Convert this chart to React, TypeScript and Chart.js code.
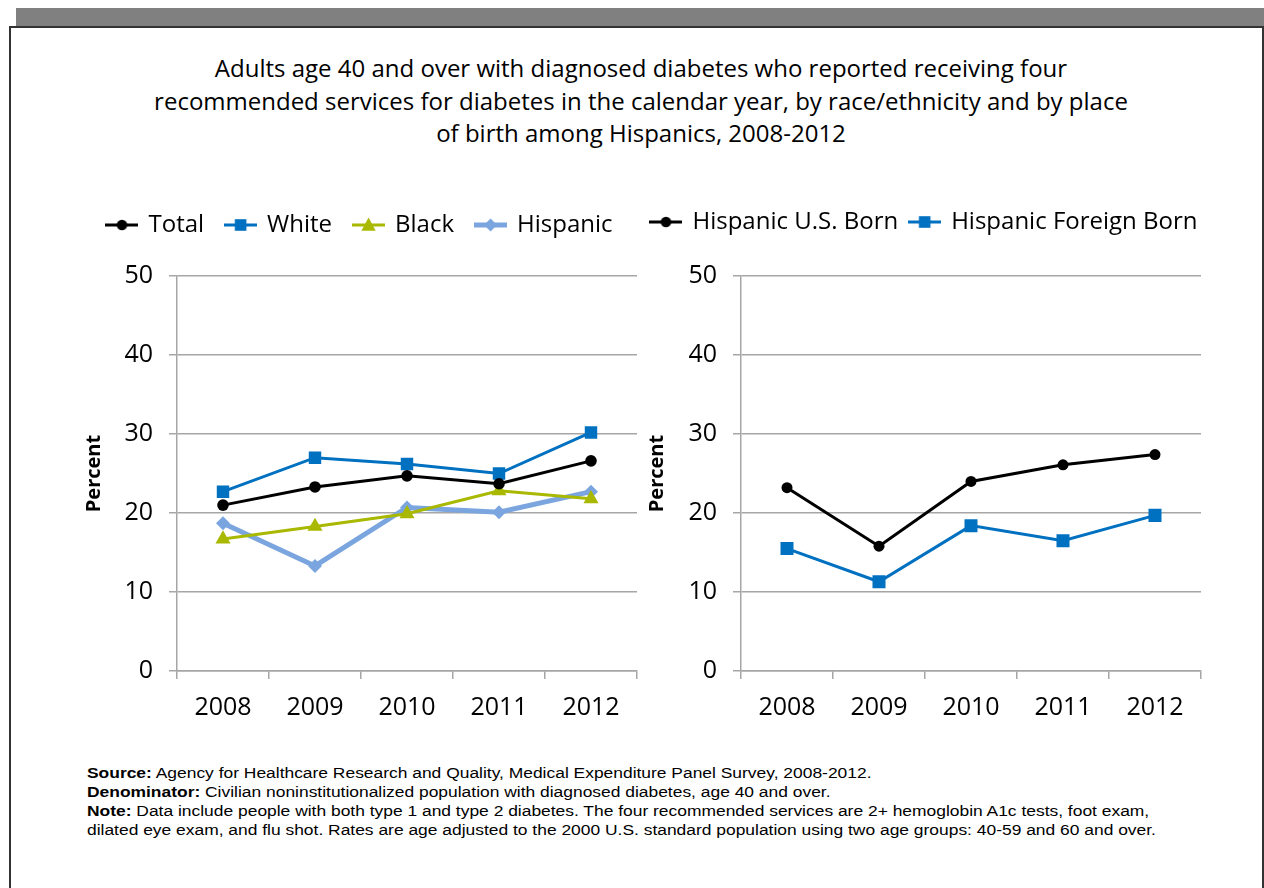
import React, { useEffect, useRef } from 'react';
import { Chart, registerables } from 'chart.js';
Chart.register(...registerables);

const years = ['2008', '2009', '2010', '2011', '2012'];
const totalValues = [21.0, 23.3, 24.7, 23.7, 26.6];
const whiteValues = [22.7, 27.0, 26.2, 25.0, 30.2];
const blackValues = [16.7, 18.3, 19.9, 22.8, 21.8];
const hispanicValues = [18.7, 13.3, 20.7, 20.1, 22.7];
const usBornValues = [23.2, 15.8, 24.0, 26.1, 27.4];
const foreignBornValues = [15.5, 11.3, 18.4, 16.5, 19.7];
const yTicks = [0, 10, 20, 30, 40, 50];

const BLUE = '#0070C0';
const OLIVE = '#A9B800';
const LIGHTBLUE = '#7BA5DE';
const GRID = '#A6A6A6';
const FONT = '"Open Sans", sans-serif';

function drawMarker(ctx: CanvasRenderingContext2D, style: string, x: number, y: number, r: number) {
  ctx.beginPath();
  if (style === 'circle') {
    ctx.arc(x, y, r, 0, Math.PI * 2);
  } else if (style === 'rect') {
    ctx.rect(x - r, y - r, 2 * r, 2 * r);
  } else if (style === 'triangle') {
    ctx.moveTo(x, y - r);
    ctx.lineTo(x + r * 0.95, y + r * 0.75);
    ctx.lineTo(x - r * 0.95, y + r * 0.75);
    ctx.closePath();
  } else if (style === 'rectRot') {
    ctx.moveTo(x, y - r);
    ctx.lineTo(x + r, y);
    ctx.lineTo(x, y + r);
    ctx.lineTo(x - r, y);
    ctx.closePath();
  }
  ctx.fill();
}

function legendImage(color: string, lineWidth: number, style: string, r: number) {
  const c = document.createElement('canvas');
  c.width = 33;
  c.height = 22;
  const ctx = c.getContext('2d')!;
  ctx.strokeStyle = color;
  ctx.lineWidth = lineWidth;
  ctx.beginPath();
  ctx.moveTo(0, 11);
  ctx.lineTo(33, 11);
  ctx.stroke();
  ctx.fillStyle = color;
  drawMarker(ctx, style, 16.5, 11, r);
  return c;
}

type SeriesDef = {
  label: string;
  data: number[];
  color: string;
  width: number;
  style: string;
  radius: number;
  legendR: number;
};

function LineChart(props: {
  series: SeriesDef[];
  yAxisWidth: number;
  xAxisHeight: number;
  padRight: number;
  titlePad: number;
  legendExtra: number;
  legendPadding: number;
}) {
  const ref = useRef<HTMLCanvasElement>(null);
  useEffect(() => {
    const images = props.series.map((s) => legendImage(s.color, s.width, s.style, s.legendR));
    const legendMargin = {
      id: 'legendMargin',
      beforeInit(chart: any) {
        const origFit = chart.legend.fit;
        chart.legend.fit = function () {
          origFit.bind(chart.legend)();
          this.height += props.legendExtra;
        };
      },
    };
    const chart = new Chart(ref.current!, {
      type: 'line',
      data: {
        labels: years,
        datasets: props.series.map((s) => ({
          label: s.label,
          data: s.data,
          borderColor: s.color,
          backgroundColor: s.color,
          borderWidth: s.width,
          pointStyle: s.style as any,
          pointRadius: s.radius,
          pointBorderWidth: 0,
          pointBackgroundColor: s.color,
          tension: 0,
          yAxisID: 'y',
        })),
      },
      plugins: [legendMargin],
      options: {
        animation: false,
        responsive: false,
        layout: { padding: 0 },
        plugins: {
          legend: {
            display: true,
            position: 'top',
            labels: {
              usePointStyle: true,
              pointStyleWidth: 29,
              padding: props.legendPadding,
              color: '#000',
              font: { family: FONT, size: 24 },
              generateLabels(chart: any) {
                const items = Chart.defaults.plugins.legend.labels.generateLabels(chart);
                return items.map((it: any, i: number) => ({ ...it, pointStyle: images[i] }));
              },
            },
          },
          tooltip: { enabled: false },
        },
        scales: {
          x: {
            type: 'category',
            offset: true,
            grid: { offset: true, drawOnChartArea: false, drawTicks: true, tickLength: 8, color: GRID, lineWidth: 1.5 },
            border: { display: true, color: GRID, width: 1.5 },
            ticks: { color: '#000', font: { family: FONT, size: 25 }, padding: 14 },
            afterFit(scale: any) {
              scale.height = props.xAxisHeight;
            },
          },
          y: {
            position: 'left',
            min: 0,
            max: 50,
            afterBuildTicks(scale: any) {
              scale.ticks = yTicks.map((v) => ({ value: v }));
            },
            grid: { color: GRID, lineWidth: 1.5, tickLength: 8, drawTicks: true },
            border: { display: true, color: GRID, width: 1.5 },
            ticks: { color: '#000', font: { family: FONT, size: 25 }, padding: 16 },
            title: {
              display: true,
              text: 'Percent',
              color: '#000',
              font: { family: FONT, size: 20, weight: 'bold' },
              padding: { top: props.titlePad, bottom: 0 },
            },
            afterFit(scale: any) {
              scale.width = props.yAxisWidth;
            },
          },
          yPad: {
            position: 'right',
            min: 0,
            max: 50,
            grid: { display: false, drawOnChartArea: false },
            border: { display: false },
            ticks: { display: false },
            afterFit(scale: any) {
              scale.width = props.padRight;
            },
          },
        },
      } as any,
    });
    return () => chart.destroy();
  }, []);
  return <canvas ref={ref} width={props.yAxisWidth + 460 + props.padRight} height={545} />;
}

const leftSeries: SeriesDef[] = [
  { label: 'Total', data: totalValues, color: '#000000', width: 3, style: 'circle', radius: 5.8, legendR: 5.3 },
  { label: 'White', data: whiteValues, color: BLUE, width: 3, style: 'rect', radius: 8.8, legendR: 5.8 },
  { label: 'Black', data: blackValues, color: OLIVE, width: 3, style: 'triangle', radius: 8.7, legendR: 7.5 },
  { label: 'Hispanic', data: hispanicValues, color: LIGHTBLUE, width: 5, style: 'rectRot', radius: 7, legendR: 6.5 },
];

const rightSeries: SeriesDef[] = [
  { label: 'Hispanic U.S. Born', data: usBornValues, color: '#000000', width: 3, style: 'circle', radius: 5.5, legendR: 5.3 },
  { label: 'Hispanic Foreign Born', data: foreignBornValues, color: BLUE, width: 3, style: 'rect', radius: 9.2, legendR: 5.8 },
];

export default function App() {
  return (
    <div style={{ position: 'absolute', left: 0, top: 0, width: 1264, height: 888, background: '#fff', overflow: 'hidden' }}>
      <div style={{ position: 'absolute', left: 16, top: 8, width: 1248, height: 18, background: '#808080' }} />
      <div
        style={{
          position: 'absolute',
          left: 9,
          top: 26,
          width: 1255,
          height: 880,
          boxSizing: 'border-box',
          borderLeft: '2px solid #333',
          borderTop: '2px solid #333',
          borderRight: '2px solid #333',
        }}
      />
      <div
        style={{
          position: 'absolute',
          left: 0,
          top: 52,
          width: 1282,
          textAlign: 'center',
          fontFamily: FONT,
          fontSize: 24,
          lineHeight: '32.5px',
          color: '#000',
        }}
      >
        Adults age 40 and over with diagnosed diabetes who reported receiving four
        <br />
        recommended services for diabetes in the calendar year, by race/ethnicity and by place
        <br />
        of birth among Hispanics, 2008-2012
      </div>
      <div style={{ position: 'absolute', left: 60, top: 191 }}>
        <LineChart series={leftSeries} yAxisWidth={117} xAxisHeight={65} padRight={23} titlePad={22} legendExtra={29} legendPadding={22} />
      </div>
      <div style={{ position: 'absolute', left: 630, top: 198 }}>
        <LineChart series={rightSeries} yAxisWidth={111} xAxisHeight={72} padRight={18} titlePad={15} legendExtra={32} legendPadding={12} />
      </div>
      <div
        style={{
          position: 'absolute',
          left: 87,
          top: 764,
          fontFamily: '"Liberation Sans", Arial, sans-serif',
          fontSize: 14,
          lineHeight: '19px',
          color: '#000',
          whiteSpace: 'nowrap',
          transform: 'scaleX(1.244)',
          transformOrigin: 'left top',
        }}
      >
        <div><b>Source:</b> Agency for Healthcare Research and Quality, Medical Expenditure Panel Survey, 2008-2012.</div>
        <div><b>Denominator:</b> Civilian noninstitutionalized population with diagnosed diabetes, age 40 and over.</div>
        <div><b>Note:</b> Data include people with both type 1 and type 2 diabetes. The four recommended services are 2+ hemoglobin A1c tests, foot exam,</div>
        <div>dilated eye exam, and flu shot. Rates are age adjusted to the 2000 U.S. standard population using two age groups: 40-59 and 60 and over.</div>
      </div>
    </div>
  );
}
